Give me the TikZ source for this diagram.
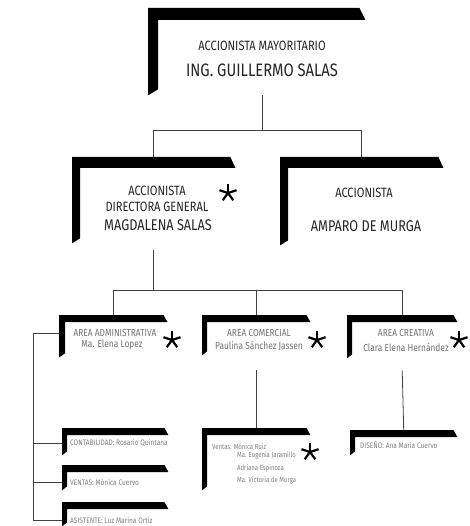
\documentclass[tikz,border=0pt]{standalone}
\usepackage{fontspec}
\setmainfont[FakeStretch=0.82]{Fira Sans}
\newcommand\brk[4]{%
  \fill[bar] (#1.north west) -- ([xshift=-#4]#1.north east) -- ([yshift=-#2]#1.north east)
    -- ([xshift=#3,yshift=-#2]#1.north west) -- ([xshift=#3,yshift=#4]#1.south west)
    -- (#1.south west) -- cycle;}
\begin{document}
\begin{tikzpicture}[x=1pt,y=-1pt,
  box/.style={inner sep=0pt, anchor=north west},
  bar/.style={fill=black},
  wire/.style={draw=black!75, line width=0.8pt},
  big/.style={font=\fontsize{18}{20}\selectfont, text=black!85},
  mid/.style={font=\fontsize{13.5}{15}\selectfont, text=black!85},
  nm/.style={font=\fontsize{15.5}{17}\selectfont, text=black!85},
  small/.style={font=\fontsize{10.2}{11}\selectfont, text=black!55, inner sep=0pt},
  tiny/.style={font=\fontsize{8}{9}\selectfont, text=black!50, inner sep=0pt, anchor=west},
  vt/.style={font=\fontsize{7.3}{8}\selectfont, text=black!50, inner sep=0pt, anchor=west},
  asterisk/.style={inner sep=0pt, minimum size=19pt, path picture={
    \foreach \a in {90,18,162,234,306}
      \draw[line width=2.2pt] (path picture bounding box.center) -- ++(\a:9pt);}}
]
\useasboundingbox (0,0) rectangle (469,526);
\fill[white] (0,0) rectangle (469,526);

% box frames
\node[box, minimum width=217, minimum height=87] (T) at (148,8) {};
\node[box, minimum width=163, minimum height=86] (D) at (72,157) {};
\node[box, minimum width=163, minimum height=88] (A) at (280,157) {};
\node[box, minimum width=108, minimum height=42] (AD) at (59,315) {};
\node[box, minimum width=108, minimum height=40] (CO) at (202,315) {};
\node[box, minimum width=110, minimum height=43] (CR) at (347,315) {};
\node[box, minimum width=106, minimum height=27] (C1) at (62,428) {};
\node[box, minimum width=106, minimum height=25] (C2) at (62,465) {};
\node[box, minimum width=106, minimum height=24] (C3) at (62,502) {};
\node[box, minimum width=108, minimum height=62] (V) at (202,428) {};
\node[box, minimum width=107, minimum height=25] (DI) at (350,430) {};

\brk{T}{12pt}{10pt}{6pt}
\brk{D}{11pt}{8pt}{5pt}
\brk{A}{11pt}{8pt}{5pt}
\brk{AD}{7pt}{6pt}{4pt}
\brk{CO}{7pt}{5pt}{4pt}
\brk{CR}{7pt}{5pt}{4pt}
\brk{C1}{7pt}{5pt}{4pt}
\brk{C2}{7pt}{5pt}{4pt}
\brk{C3}{7pt}{5pt}{4pt}
\brk{V}{7pt}{5pt}{4pt}
\brk{DI}{7pt}{5pt}{4pt}

% texts
\node[mid] (t1) at (262,46) {ACCIONISTA MAYORITARIO};
\node[big] (t2) at (262,70) {ING. GUILLERMO SALAS};
\node[mid] (d1) at (157,191) {ACCIONISTA};
\node[mid] (d2) at (157,207) {DIRECTORA GENERAL};
\node[nm] (d3) at (158,225) {MAGDALENA SALAS};
\node[mid] (a1) at (364,193) {ACCIONISTA};
\node[nm] (a2) at (366,226) {AMPARO DE MURGA};
\node[small] (ad1) at (115,333) {AREA ADMINISTRATIVA};
\node[small] (ad2) at (112,345) {Ma. Elena Lopez};
\node[small] (co1) at (259,333) {AREA COMERCIAL};
\node[small] (co2) at (259,346) {Paulina Sánchez Jassen};
\node[small] (cr1) at (406,333) {AREA CREATIVA};
\node[small] (cr2) at (406,347) {Clara Elena Hernández};
\node[tiny] (c1t) at (70,443) {CONTABILIDAD: Rosario Quintana};
\node[tiny] (c2t) at (70,482) {VENTAS: Mónica Cuervo};
\node[tiny] (c3t) at (70,520) {ASISTENTE: Luz Marina Ortiz};
\node[vt] (v1) at (212,447) {Ventas: Mónica Ruiz};
\node[vt] (v2) at (237,455) {Ma. Eugenia Jaramillo};
\node[vt] (v3) at (237,468) {Adriana Espinoza};
\node[vt] (v4) at (237,480) {Ma. Victoria de Murga};
\node[tiny] (dit) at (360,445) {DISEÑO: Ana María Cuervo};

% asterisks
\node[asterisk] (s1) at (228,193) {};
\node[asterisk] (s2) at (172,340) {};
\node[asterisk] (s3) at (317,340) {};
\node[asterisk] (s4) at (459,340) {};
\node[asterisk] (s5) at (310,452) {};

% connectors
\draw[wire] (T.south -| t2.south) -- ++(0,35) coordinate (h0);
\draw[wire] (h0) -| (D.north);
\draw[wire] (h0) -| (A.north);
\draw[wire] ([yshift=-7pt]D.south) -- ++(0,40) coordinate (h1);
\draw[wire] (h1) -| (AD.north);
\draw[wire] (h1) -| (CO.north);
\draw[wire] (h1) -| (CR.north);
\draw[wire] (AD.west |- ad1) -- ++(-26,0) coordinate (L1);
\draw[wire] (L1) -- (L1 |- c3t);
\draw[wire] (L1 |- c1t) -- (C1.west |- c1t);
\draw[wire] (L1 |- c2t) -- (C2.west |- c2t);
\draw[wire] (L1 |- c3t) -- (C3.west |- c3t);
\draw[wire] ([yshift=-15pt]CO.south) -- (V.north);
\draw[wire] ([yshift=-12pt]CR.south) -- (DI.north);
\end{tikzpicture}
\end{document}
